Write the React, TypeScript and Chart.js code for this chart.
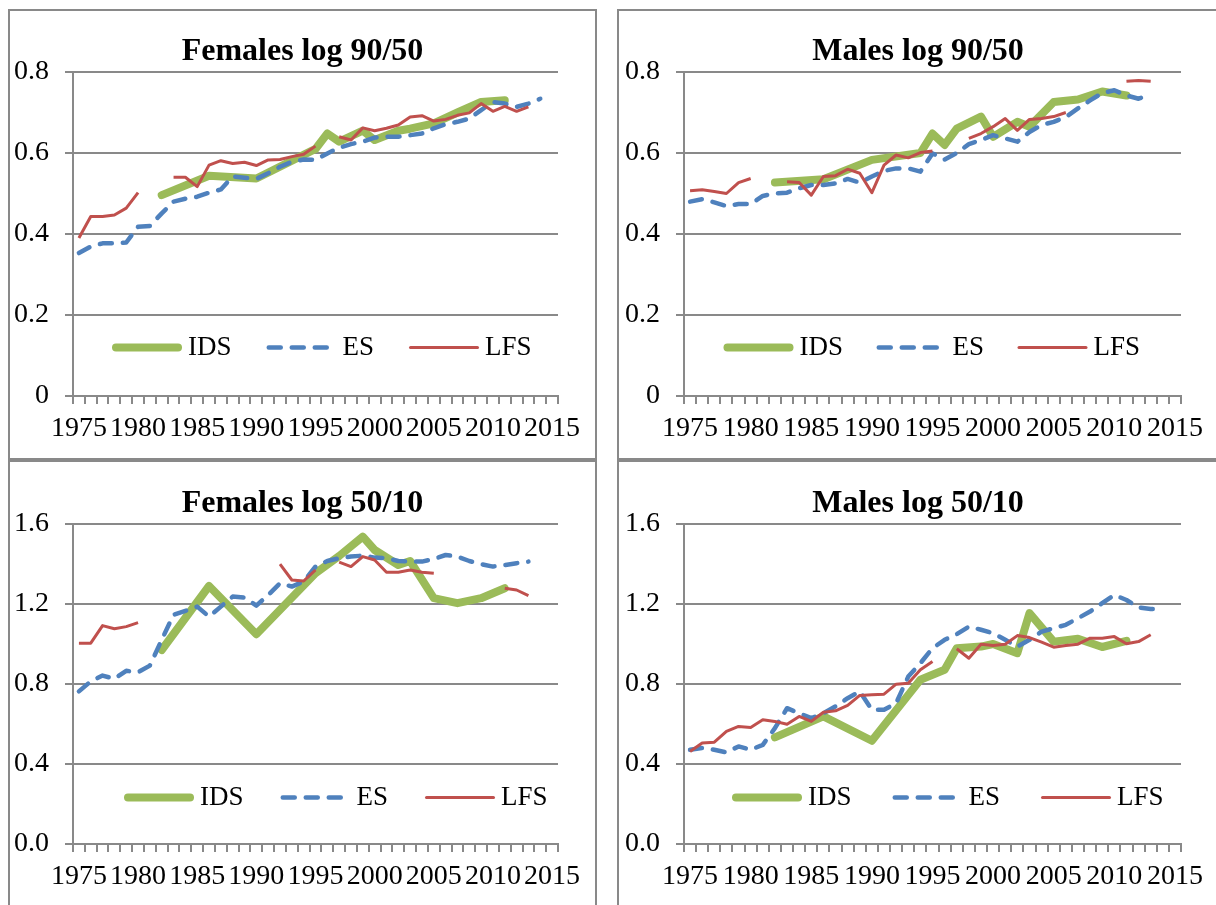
import React, { useEffect, useRef } from 'react';
import { Chart, registerables } from 'chart.js';

Chart.register(...registerables);

// ---------- categories & tick labels ----------
const years = [
  '1975', '1976', '1977', '1978', '1979', '1980', '1981', '1982', '1983', '1984',
  '1985', '1986', '1987', '1988', '1989', '1990', '1991', '1992', '1993', '1994',
  '1995', '1996', '1997', '1998', '1999', '2000', '2001', '2002', '2003', '2004',
  '2005', '2006', '2007', '2008', '2009', '2010', '2011', '2012', '2013', '2014',
  '2015',
];
const xTickLabels = ['1975', '1980', '1985', '1990', '1995', '2000', '2005', '2010', '2015'];
const yTicks9050 = [0, 0.2, 0.4, 0.6, 0.8];
const yLabels9050 = ['0', '0.2', '0.4', '0.6', '0.8'];
const yTicks5010 = [0, 0.4, 0.8, 1.2, 1.6];
const yLabels5010 = ['0.0', '0.4', '0.8', '1.2', '1.6'];
const seriesNames = ['IDS', 'ES', 'LFS'];

// ---------- Females log 90/50 ----------
const femIds9050Years = ['1982', '1986', '1990', '1995', '1996', '1997', '1999', '2000', '2002', '2003', '2005', '2007', '2009', '2011'];
const femIds9050 = [0.496, 0.544, 0.537, 0.61, 0.648, 0.628, 0.655, 0.632, 0.655, 0.66, 0.673, 0.7, 0.726, 0.73];
const femEs9050 = [
  0.353, 0.369, 0.377, 0.377, 0.379, 0.418, 0.42, 0.451, 0.48, 0.487,
  0.492, 0.502, 0.51, 0.542, 0.539, 0.536, 0.55, 0.566, 0.578, 0.584,
  0.583, 0.599, 0.613, 0.622, 0.628, 0.638, 0.64, 0.64, 0.644, 0.648,
  0.661, 0.671, 0.677, 0.685, 0.706, 0.726, 0.722, 0.714, 0.722, 0.734,
  null,
];
const femLfs9050 = [
  0.39, 0.443, 0.443, 0.447, 0.464, 0.502, null, null, 0.54, 0.54,
  0.517, 0.57, 0.581, 0.574, 0.577, 0.569, 0.583, 0.584, 0.591, 0.597,
  0.617, null, 0.64, 0.632, 0.662, 0.655, 0.661, 0.669, 0.689, 0.692,
  0.679, 0.683, 0.693, 0.699, 0.722, 0.703, 0.715, 0.703, 0.714, null,
  null,
];

// ---------- Males log 90/50 ----------
const maleIds9050Years = ['1982', '1986', '1990', '1994', '1995', '1996', '1997', '1999', '2000', '2002', '2003', '2005', '2007', '2009', '2011'];
const maleIds9050 = [0.527, 0.535, 0.583, 0.6, 0.648, 0.62, 0.66, 0.69, 0.64, 0.677, 0.665, 0.726, 0.732, 0.752, 0.742];
const maleEs9050 = [
  0.48, 0.486, 0.478, 0.469, 0.474, 0.474, 0.494, 0.5, 0.502, 0.513,
  0.521, 0.521, 0.525, 0.536, 0.527, 0.542, 0.556, 0.562, 0.562, 0.554,
  0.599, 0.584, 0.6, 0.622, 0.632, 0.644, 0.636, 0.628, 0.652, 0.669,
  0.677, 0.689, 0.71, 0.73, 0.748, 0.755, 0.742, 0.734, 0.745, null,
  null,
];
const maleLfs9050 = [
  0.507, 0.509, 0.505, 0.5, 0.527, 0.537, null, null, 0.529, 0.527,
  0.496, 0.542, 0.544, 0.56, 0.55, 0.502, 0.57, 0.595, 0.588, 0.601,
  0.605, null, null, 0.636, 0.648, 0.665, 0.685, 0.656, 0.683, 0.685,
  0.69, 0.7, null, null, null, null, 0.777, 0.779, 0.777, null,
  null,
];

// ---------- Females log 50/10 ----------
const femIds5010Years = ['1982', '1986', '1990', '1995', '1997', '1999', '2000', '2002', '2003', '2005', '2007', '2009', '2011'];
const femIds5010 = [0.97, 1.29, 1.049, 1.354, 1.44, 1.537, 1.47, 1.395, 1.415, 1.229, 1.204, 1.229, 1.279];
const femEs5010 = [
  0.763, 0.813, 0.842, 0.826, 0.866, 0.859, 0.892, 1.021, 1.146, 1.166,
  1.187, 1.137, 1.187, 1.237, 1.232, 1.192, 1.245, 1.304, 1.287, 1.312,
  1.387, 1.415, 1.429, 1.437, 1.442, 1.432, 1.429, 1.415, 1.412, 1.412,
  1.425, 1.445, 1.437, 1.415, 1.399, 1.387, 1.395, 1.404, 1.412, null,
  null,
];
const femLfs5010 = [
  1.004, 1.004, 1.092, 1.076, 1.087, 1.107, null, null, null, null,
  null, null, null, null, null, null, null, 1.399, 1.32, 1.315,
  1.37, null, 1.409, 1.387, 1.437, 1.42, 1.359, 1.359, 1.37, 1.359,
  1.354, null, null, null, null, null, 1.279, 1.27, 1.242, null,
  null,
];

// ---------- Males log 50/10 ----------
const maleIds5010Years = ['1982', '1986', '1990', '1994', '1996', '1997', '1999', '2000', '2002', '2003', '2005', '2007', '2009', '2011'];
const maleIds5010 = [0.533, 0.638, 0.516, 0.821, 0.871, 0.979, 0.987, 1.0, 0.954, 1.154, 1.012, 1.026, 0.985, 1.016];
const maleEs5010 = [
  0.471, 0.48, 0.471, 0.458, 0.488, 0.471, 0.496, 0.579, 0.679, 0.654,
  0.629, 0.654, 0.688, 0.729, 0.763, 0.671, 0.671, 0.704, 0.837, 0.904,
  0.979, 1.021, 1.049, 1.087, 1.071, 1.054, 1.021, 0.987, 1.021, 1.062,
  1.079, 1.096, 1.129, 1.162, 1.204, 1.245, 1.22, 1.182, 1.175, 1.174,
  null,
];
const maleLfs5010 = [
  0.463, 0.505, 0.509, 0.563, 0.588, 0.583, 0.621, 0.613, 0.599, 0.638,
  0.613, 0.659, 0.666, 0.693, 0.743, 0.746, 0.749, 0.799, 0.804, 0.871,
  0.912, null, 0.976, 0.929, 0.999, 0.992, 0.999, 1.042, 1.032, 1.009,
  0.984, 0.992, 0.999, 1.029, 1.029, 1.037, 1.001, 1.012, 1.046, null,
  null,
];

// place sparse survey values on the yearly category axis
function placeOnYears(ys: string[], vals: number[]) {
  return years.map((y) => {
    const i = ys.indexOf(y);
    return i >= 0 ? vals[i] : null;
  });
}

const GRAY = '#898989';
const FONT = '"Liberation Serif", "Times New Roman", serif';

type PanelCfg = {
  title: string;
  ids: (number | null)[];
  es: (number | null)[];
  lfs: (number | null)[];
  yTicks: number[];
  yLabels: string[];
  box: { left: number; top: number; width: number; height: number };
  yAxisW: number;
  chartTop: number;
  chartBottom: number;
  rightPad: number;
  legendStart: number;
  legendGap: number;
  legendLift: number;
};

const panels: PanelCfg[] = [
  {
    title: 'Females log 90/50',
    ids: placeOnYears(femIds9050Years, femIds9050), es: femEs9050, lfs: femLfs9050,
    yTicks: yTicks9050, yLabels: yLabels9050,
    box: { left: 8, top: 9, width: 589, height: 451 },
    yAxisW: 63, chartTop: 61, chartBottom: 385, rightPad: 37,
    legendStart: 39, legendGap: 35, legendLift: 48.5,
  },
  {
    title: 'Males log 90/50',
    ids: placeOnYears(maleIds9050Years, maleIds9050), es: maleEs9050, lfs: maleLfs9050,
    yTicks: yTicks9050, yLabels: yLabels9050,
    box: { left: 617, top: 9, width: 602, height: 451 },
    yAxisW: 65, chartTop: 61, chartBottom: 385, rightPad: 36,
    legendStart: 39.5, legendGap: 33.5, legendLift: 48.5,
  },
  {
    title: 'Females log 50/10',
    ids: placeOnYears(femIds5010Years, femIds5010), es: femEs5010, lfs: femLfs5010,
    yTicks: yTicks5010, yLabels: yLabels5010,
    box: { left: 8, top: 460, width: 589, height: 460 },
    yAxisW: 63, chartTop: 62, chartBottom: 382, rightPad: 37,
    legendStart: 51, legendGap: 37, legendLift: 46.5,
  },
  {
    title: 'Males log 50/10',
    ids: placeOnYears(maleIds5010Years, maleIds5010), es: maleEs5010, lfs: maleLfs5010,
    yTicks: yTicks5010, yLabels: yLabels5010,
    box: { left: 617, top: 460, width: 602, height: 460 },
    yAxisW: 65, chartTop: 62, chartBottom: 382, rightPad: 36,
    legendStart: 48, legendGap: 41, legendLift: 46.5,
  },
];

function makeDecorPlugin(cfg: PanelCfg) {
  return {
    id: 'panelDecor',
    afterDraw(chart: any) {
      const { ctx, chartArea, width } = chart;
      ctx.save();
      ctx.fillStyle = '#000';
      ctx.font = `bold 32px ${FONT}`;
      ctx.textAlign = 'center';
      ctx.textBaseline = 'alphabetic';
      ctx.fillText(cfg.title, width / 2, chartArea.top - 12.5);

      ctx.font = `27px ${FONT}`;
      ctx.textAlign = 'left';
      ctx.textBaseline = 'middle';
      let x = chartArea.left + cfg.legendStart;
      const y = chartArea.bottom - cfg.legendLift;
      chart.data.datasets.forEach((ds: any) => {
        const w = ds.borderWidth;
        ctx.save();
        ctx.strokeStyle = ds.borderColor;
        ctx.lineWidth = w;
        ctx.lineCap = 'round';
        ctx.setLineDash(ds.borderDash || []);
        ctx.beginPath();
        ctx.moveTo(x + w / 2, y);
        ctx.lineTo(x + 70 - w / 2, y);
        ctx.stroke();
        ctx.restore();
        const tx = x + 76;
        ctx.fillStyle = '#000';
        ctx.fillText(ds.label, tx, y);
        x = tx + ctx.measureText(ds.label).width + cfg.legendGap;
      });
      ctx.restore();
    },
  };
}

function Panel({ cfg }: { cfg: PanelCfg }) {
  const ref = useRef<HTMLCanvasElement>(null);
  const cw = cfg.box.width - 4;
  const ch = cfg.box.height - 4;

  useEffect(() => {
    const canvas = ref.current;
    if (!canvas) return;
    const xAxisH = ch - cfg.chartBottom;
    const chart = new Chart(canvas, {
      type: 'line',
      data: {
        labels: years,
        datasets: [
          {
            label: seriesNames[0],
            data: cfg.ids,
            borderColor: '#9BBB59',
            backgroundColor: '#9BBB59',
            borderWidth: 8,
            borderCapStyle: 'round',
            borderJoinStyle: 'round',
            spanGaps: true,
            pointRadius: 0,
            tension: 0,
            order: 2,
          },
          {
            label: seriesNames[1],
            data: cfg.es,
            borderColor: '#4F81BD',
            backgroundColor: '#4F81BD',
            borderWidth: 4.5,
            borderDash: [12, 11],
            borderCapStyle: 'round',
            borderJoinStyle: 'round',
            spanGaps: false,
            pointRadius: 0,
            tension: 0,
            order: 1,
          },
          {
            label: seriesNames[2],
            data: cfg.lfs,
            borderColor: '#C0504D',
            backgroundColor: '#C0504D',
            borderWidth: 3,
            borderJoinStyle: 'round',
            spanGaps: false,
            pointRadius: 0,
            tension: 0,
            order: 0,
          },
        ],
      } as any,
      options: {
        responsive: false,
        maintainAspectRatio: false,
        animation: false,
        devicePixelRatio: 1,
        layout: { padding: { top: cfg.chartTop, right: cfg.rightPad, left: 0, bottom: 0 } },
        plugins: {
          legend: { display: false },
          title: { display: false },
          tooltip: { enabled: false },
        },
        scales: {
          x: {
            type: 'category',
            offset: true,
            grid: {
              offset: true,
              drawOnChartArea: false,
              drawTicks: true,
              tickLength: 8,
              color: GRAY,
              lineWidth: 2,
            },
            border: { display: true, color: GRAY, width: 2 },
            ticks: {
              autoSkip: false,
              maxRotation: 0,
              minRotation: 0,
              padding: 8,
              color: '#000',
              font: { family: FONT, size: 28 },
              callback: (_v: any, i: number) => (xTickLabels.includes(years[i]) ? years[i] : ''),
            },
            afterFit: (s: any) => {
              s.height = xAxisH;
            },
          },
          y: {
            min: cfg.yTicks[0],
            max: cfg.yTicks[cfg.yTicks.length - 1],
            grid: {
              drawTicks: true,
              tickLength: 8,
              color: GRAY,
              lineWidth: 2,
            },
            border: { display: true, color: GRAY, width: 2 },
            ticks: {
              stepSize: cfg.yTicks[1] - cfg.yTicks[0],
              padding: 16,
              color: '#000',
              font: { family: FONT, size: 28 },
              callback: (v: any) => {
                const idx = cfg.yTicks.findIndex((t) => Math.abs(t - Number(v)) < 1e-6);
                return idx >= 0 ? cfg.yLabels[idx] : '';
              },
            },
            afterFit: (s: any) => {
              s.width = cfg.yAxisW;
            },
          },
        },
      } as any,
      plugins: [makeDecorPlugin(cfg)],
    });
    return () => chart.destroy();
  }, []);

  return (
    <div
      style={{
        position: 'absolute',
        left: cfg.box.left,
        top: cfg.box.top,
        width: cfg.box.width,
        height: cfg.box.height,
        border: `2px solid ${GRAY}`,
        boxSizing: 'border-box',
        background: '#fff',
      }}
    >
      <canvas ref={ref} width={cw} height={ch} style={{ display: 'block', width: cw, height: ch }} />
    </div>
  );
}

export default function App() {
  return (
    <div
      style={{
        position: 'absolute',
        left: 0,
        top: 0,
        width: 1216,
        height: 905,
        overflow: 'hidden',
        background: '#fff',
      }}
    >
      {panels.map((p) => (
        <Panel key={p.title} cfg={p} />
      ))}
    </div>
  );
}
